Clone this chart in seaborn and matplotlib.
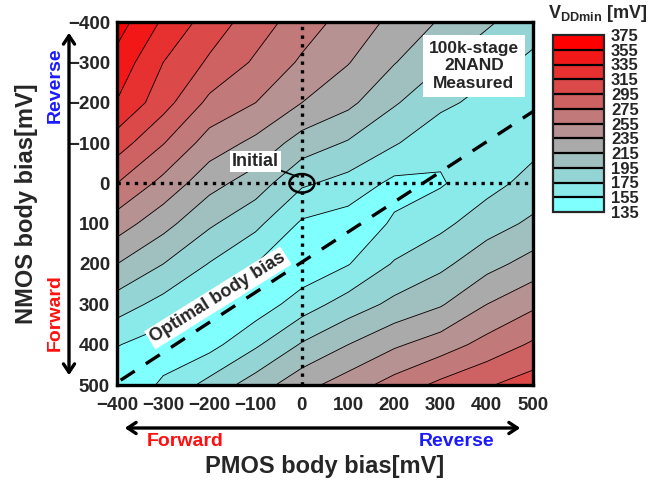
import numpy as np
import pandas as pd
import seaborn as sns
import matplotlib
matplotlib.use("Agg")
import matplotlib.pyplot as plt
from matplotlib.colors import ListedColormap, BoundaryNorm
from matplotlib.patches import Ellipse, FancyArrowPatch

# ---------------- data ----------------
pmos_bias = [-400, -300, -200, -100, 0, 100, 200, 300, 400, 500]
nmos_bias = [-400, -300, -200, -100, 0, 100, 200, 300, 400, 500]
vdd_n_m400 = [364, 332, 306, 285, 265, 247, 230, 213, 198, 183]
vdd_n_m300 = [348, 315, 292, 272, 252, 236, 216, 197, 182, 171]
vdd_n_m200 = [334, 303, 270, 255, 235, 220, 197, 180, 168, 162]
vdd_n_m100 = [305, 276, 246, 230, 206, 193, 177, 160, 160, 169]
vdd_n_0 = [275, 249, 222, 205, 178, 168, 150, 153, 168, 182]
vdd_n_100 = [245, 222, 198, 180, 152, 145, 157, 170, 186, 199]
vdd_n_200 = [215, 195, 174, 155, 140, 154, 177, 190, 208, 223]
vdd_n_300 = [185, 168, 148, 143, 165, 184, 200, 213, 235, 251]
vdd_n_400 = [156, 145, 148, 172, 197, 215, 232, 245, 262, 278]
vdd_n_500 = [140, 158, 182, 205, 228, 245, 263, 280, 293, 305]
levels = [135, 155, 175, 195, 215, 235, 255, 275, 295, 315, 335, 355, 375]
band_colors = ["#80ffff", "#8aeaea", "#95d4d4", "#a0bfbf", "#aaaaaa", "#b69292",
               "#c27979", "#ce6161", "#db4949", "#e73131", "#f31818", "#ff0000"]
opt_x = [-392, 500]
opt_y = [488, -178]
xticks = [-400, -300, -200, -100, 0, 100, 200, 300, 400, 500]
yticks = [-400, -300, -200, -100, 0, 100, 200, 300, 400, 500]

# ---------------- style ----------------
sns.set_style("white")
plt.rcParams["font.family"] = ["Liberation Sans", "DejaVu Sans"]
plt.rcParams["font.weight"] = "bold"
plt.rcParams["mathtext.fontset"] = "custom"
plt.rcParams["mathtext.rm"] = "Liberation Sans:bold"
plt.rcParams["mathtext.bf"] = "Liberation Sans:bold"
plt.rcParams["mathtext.it"] = "Liberation Sans:bold"

W, H = 655, 482
fig = plt.figure(figsize=(W / 100, H / 100), dpi=100)
ax = fig.add_axes([117 / W, 1 - 385 / H, 416 / W, 363 / H])

Z = np.array([vdd_n_m400, vdd_n_m300, vdd_n_m200, vdd_n_m100, vdd_n_0,
              vdd_n_100, vdd_n_200, vdd_n_300, vdd_n_400, vdd_n_500])
cmap = ListedColormap(band_colors)
norm = BoundaryNorm(levels, cmap.N)
cf = ax.contourf(pmos_bias, nmos_bias, Z, levels=levels, cmap=cmap, norm=norm)
ax.contour(pmos_bias, nmos_bias, Z, levels=levels, colors="k", linewidths=0.6)

# reference cross lines
ax.axvline(0, color="k", ls=(0, (1, 1.6)), lw=2.4)
ax.axhline(0, color="k", ls=(0, (1, 1.6)), lw=2.4)

# optimal body bias line
opt_df = pd.DataFrame({"p": opt_x, "n": opt_y})
sns.lineplot(data=opt_df, x="p", y="n", ax=ax, color="k", lw=2.4,
             linestyle=(0, (5, 4)), sort=False)

ax.add_patch(Ellipse((0, 0), 54, 46, fill=False, ec="k", lw=1.8, zorder=5))
ax.annotate("Initial", xy=(-8, -16), xytext=(-100, -54), fontsize=13,
            fontweight="bold", ha="center", va="center",
            bbox=dict(boxstyle="square,pad=0.1", fc="white", ec="none"),
            arrowprops=dict(arrowstyle="-", color="k", lw=1.2,
                            shrinkA=0, shrinkB=0))
ax.text(-182, 284, "Optimal body bias", rotation=32, fontsize=13,
        fontweight="bold", ha="center", va="center", rotation_mode="anchor",
        bbox=dict(boxstyle="square,pad=0.12", fc="white", ec="none"))
ax.text(372, -291, "100k-stage\n2NAND\nMeasured", fontsize=12.5,
        fontweight="bold", ha="center", va="center", linespacing=1.2,
        bbox=dict(boxstyle="square,pad=0.35", fc="white", ec="none"))

ax.set_xlim(-400, 500)
ax.set_ylim(500, -400)
ax.set_xticks(xticks)
ax.set_yticks(yticks)
ax.set_xticks(np.arange(-350, 500, 100), minor=True)
ax.set_yticks(np.arange(-350, 500, 100), minor=True)
ax.tick_params(which="major", direction="in", length=7, width=2.2,
               labelsize=13.5, bottom=True, left=True)
ax.tick_params(axis="x", which="major", pad=9)
ax.tick_params(axis="y", which="major", pad=5)
ax.tick_params(which="minor", direction="in", length=4, width=2.2,
               bottom=True, left=True)
for lab in ax.get_xticklabels() + ax.get_yticklabels():
    lab.set_fontweight("bold")
for sp in ax.spines.values():
    sp.set_linewidth(2.4)
    sp.set_color("k")
ax.set_xlabel("")
ax.set_ylabel("")

# axis labels and direction arrows
fig.text(325 / W, 1 - 466 / H, "PMOS body bias[mV]", fontsize=17,
         fontweight="bold", ha="center", va="center")
fig.text(27 / W, 1 - 204 / H, "NMOS body bias[mV]", fontsize=17,
         fontweight="bold", ha="center", va="center", rotation=90)
fig.text(185 / W, 1 - 441 / H, "Forward", color="#ff1010", fontsize=14,
         fontweight="bold", ha="center", va="center")
fig.text(457 / W, 1 - 441 / H, "Reverse", color="#1a1aff", fontsize=14,
         fontweight="bold", ha="center", va="center")
fig.text(55 / W, 1 - 85 / H, "Reverse", color="#1a1aff", fontsize=14,
         fontweight="bold", ha="center", va="center", rotation=90)
fig.text(55 / W, 1 - 313 / H, "Forward", color="#ff1010", fontsize=14,
         fontweight="bold", ha="center", va="center", rotation=90)
fig.patches.append(FancyArrowPatch(
    (122 / W, 1 - 428 / H), (523 / W, 1 - 428 / H), transform=fig.transFigure,
    arrowstyle="<->,head_length=6,head_width=4", lw=2.4, color="k"))
fig.patches.append(FancyArrowPatch(
    (69 / W, 1 - 30 / H), (69 / W, 1 - 378 / H), transform=fig.transFigure,
    arrowstyle="<->,head_length=6,head_width=4", lw=2.4, color="k"))

# colorbar
cax = fig.add_axes([553 / W, 1 - 212 / H, 51 / W, 177 / H])
cb = fig.colorbar(cf, cax=cax, ticks=levels, drawedges=True)
cb.outline.set_linewidth(1.6)
cb.dividers.set_linewidth(1.6)
cb.dividers.set_color("k")
cax.tick_params(length=0, labelsize=12, pad=5)
for lab in cax.get_yticklabels():
    lab.set_fontweight("bold")
fig.text(598 / W, 1 - 13 / H, r"$\mathregular{V_{DDmin}}$ [mV]", fontsize=13,
         fontweight="bold", ha="center", va="center")

fig.savefig("out.png", dpi=100)
